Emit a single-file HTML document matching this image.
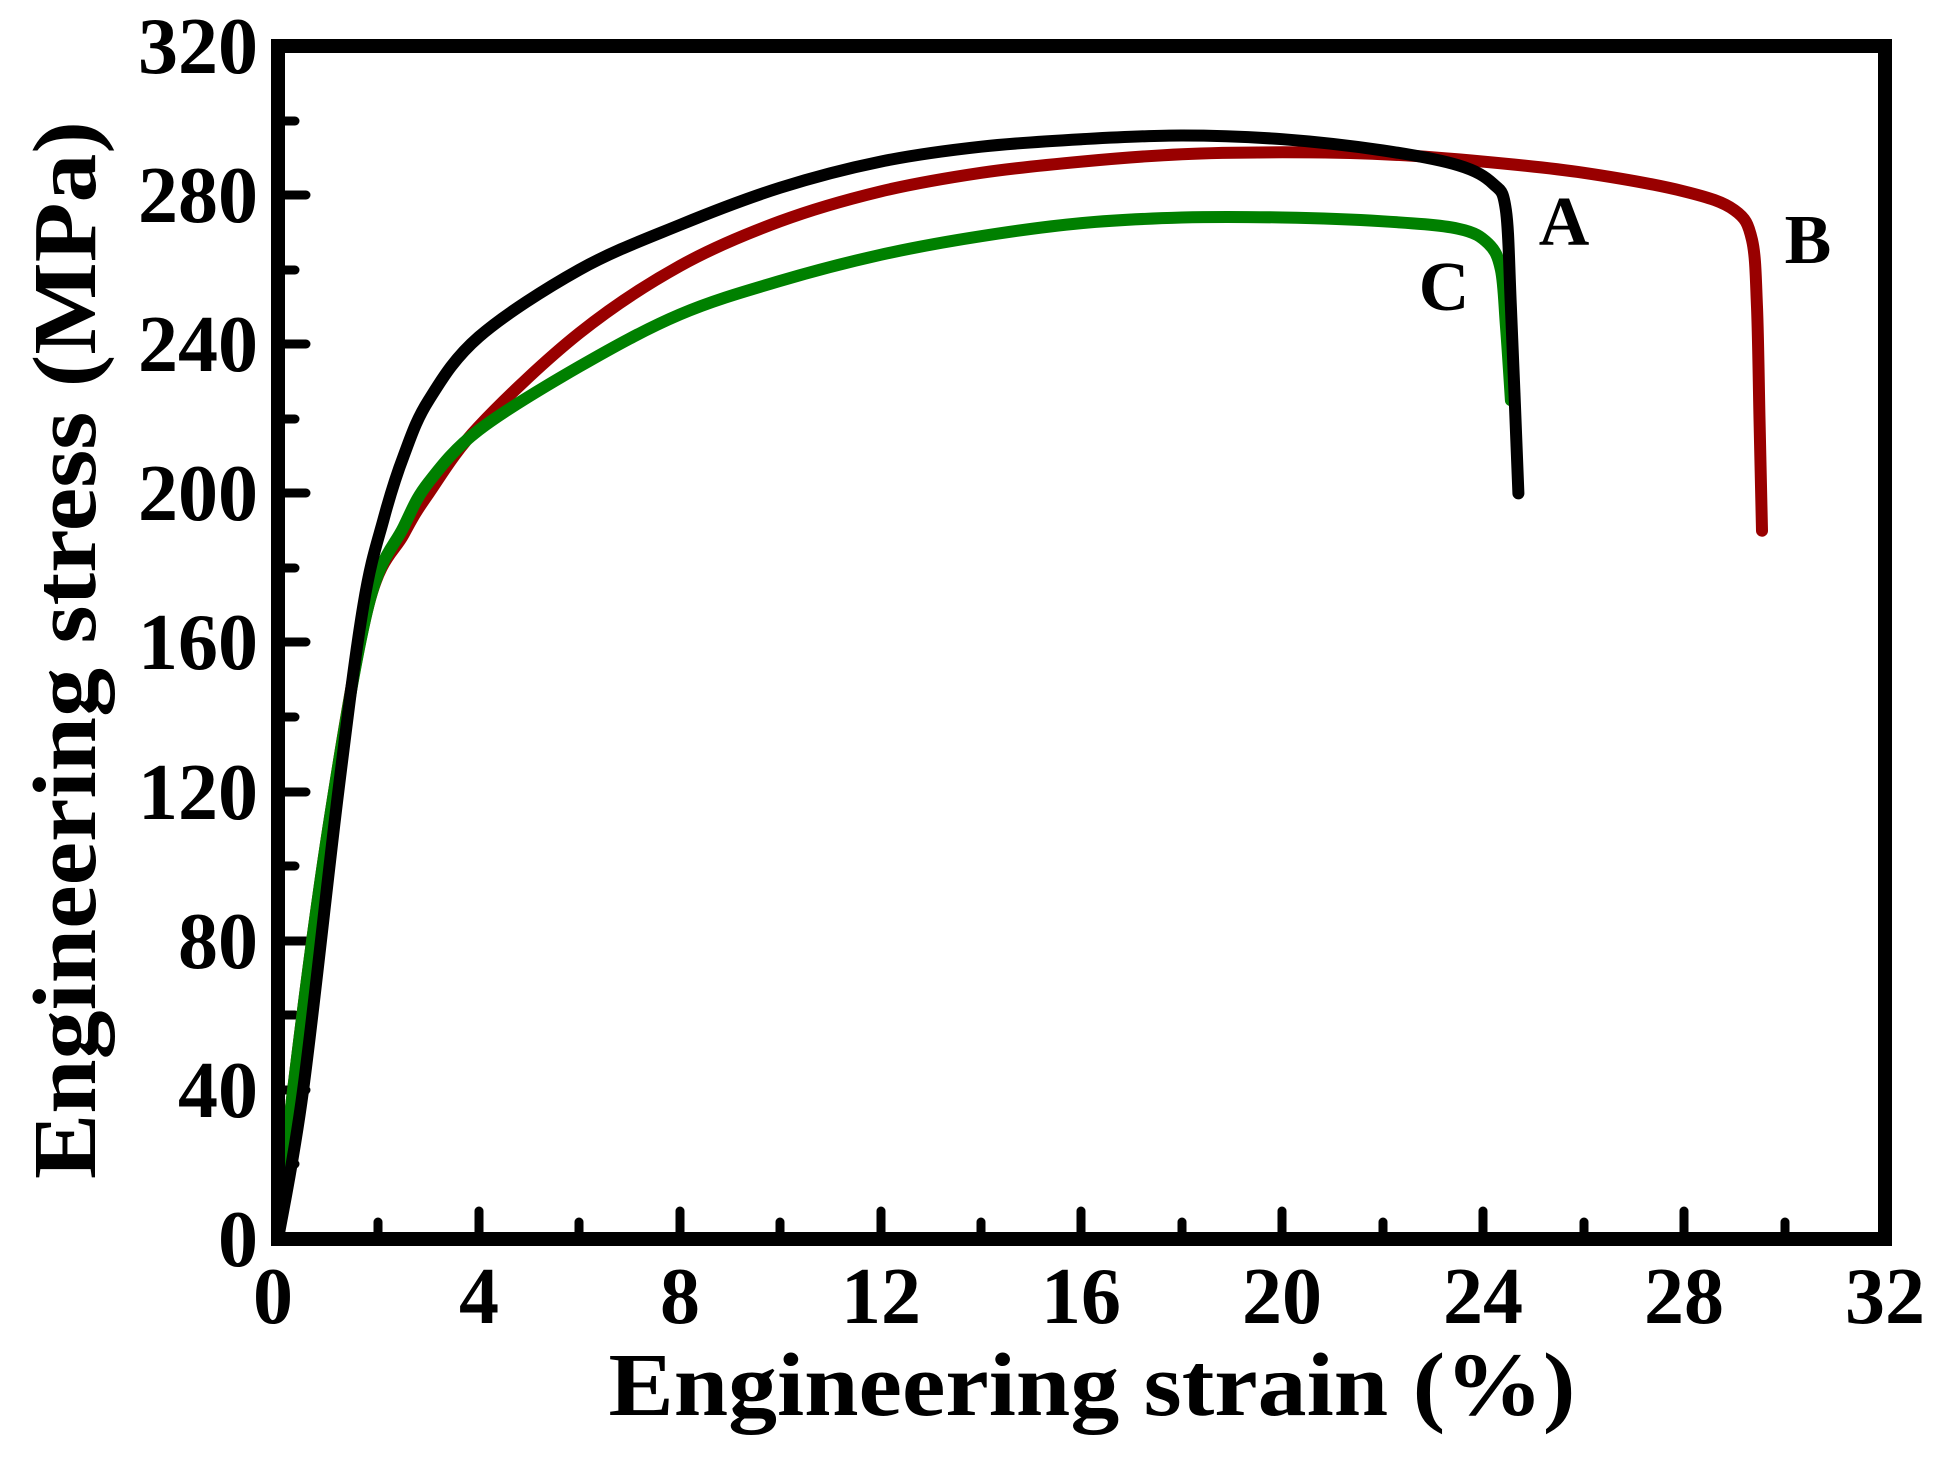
<!DOCTYPE html>
<html><head><meta charset="utf-8"><style>
html,body{margin:0;padding:0;background:#fff;}
svg{display:block;}
text{font-family:"Liberation Serif",serif;font-weight:bold;fill:#000;}
</style></head><body>
<svg id="s" width="1947" height="1458" viewBox="0 0 1947 1458" xmlns="http://www.w3.org/2000/svg">
<g stroke="#000" stroke-linecap="round" stroke-width="9">
<line x1="378" y1="1239" x2="378" y2="1222"/>
<line x1="479" y1="1239" x2="479" y2="1211"/>
<line x1="579" y1="1239" x2="579" y2="1222"/>
<line x1="680" y1="1239" x2="680" y2="1211"/>
<line x1="780" y1="1239" x2="780" y2="1222"/>
<line x1="881" y1="1239" x2="881" y2="1211"/>
<line x1="981" y1="1239" x2="981" y2="1222"/>
<line x1="1081" y1="1239" x2="1081" y2="1211"/>
<line x1="1182" y1="1239" x2="1182" y2="1222"/>
<line x1="1282" y1="1239" x2="1282" y2="1211"/>
<line x1="1383" y1="1239" x2="1383" y2="1222"/>
<line x1="1483" y1="1239" x2="1483" y2="1211"/>
<line x1="1584" y1="1239" x2="1584" y2="1222"/>
<line x1="1684" y1="1239" x2="1684" y2="1211"/>
<line x1="1785" y1="1239" x2="1785" y2="1222"/>
<line x1="278" y1="1164" x2="295" y2="1164"/>
<line x1="278" y1="1090" x2="306" y2="1090"/>
<line x1="278" y1="1015" x2="295" y2="1015"/>
<line x1="278" y1="941" x2="306" y2="941"/>
<line x1="278" y1="866" x2="295" y2="866"/>
<line x1="278" y1="792" x2="306" y2="792"/>
<line x1="278" y1="717" x2="295" y2="717"/>
<line x1="278" y1="642" x2="306" y2="642"/>
<line x1="278" y1="568" x2="295" y2="568"/>
<line x1="278" y1="493" x2="306" y2="493"/>
<line x1="278" y1="419" x2="295" y2="419"/>
<line x1="278" y1="344" x2="306" y2="344"/>
<line x1="278" y1="270" x2="295" y2="270"/>
<line x1="278" y1="195" x2="306" y2="195"/>
<line x1="278" y1="121" x2="295" y2="121"/>
</g>
<g fill="none" stroke-width="12" stroke-linejoin="round" stroke-linecap="round">
<path id="B" stroke="#990000"/>
<path id="C" stroke="#008000"/>
<path id="A" stroke="#000"/>
</g>
<rect x="278" y="46" width="1607" height="1193" fill="none" stroke="#000" stroke-width="14"/>
<g font-size="80" text-anchor="end">
<text x="258" y="1266">0</text>
<text x="258" y="1117">40</text>
<text x="258" y="968">80</text>
<text x="258" y="819">120</text>
<text x="258" y="669">160</text>
<text x="258" y="520">200</text>
<text x="258" y="371">240</text>
<text x="258" y="222">280</text>
<text x="258" y="73">320</text>
</g>
<g font-size="80" text-anchor="middle">
<text x="273" y="1323">0</text>
<text x="479" y="1323">4</text>
<text x="680" y="1323">8</text>
<text x="881" y="1323">12</text>
<text x="1081" y="1323">16</text>
<text x="1282" y="1323">20</text>
<text x="1483" y="1323">24</text>
<text x="1684" y="1323">28</text>
<text x="1885" y="1323">32</text>
</g>
<text x="1092" y="1415" font-size="90" text-anchor="middle" textLength="967" lengthAdjust="spacingAndGlyphs">Engineering strain (%)</text>
<text transform="translate(95,650) rotate(-90)" font-size="90" text-anchor="middle" textLength="1058" lengthAdjust="spacingAndGlyphs">Engineering stress (MPa)</text>
<g font-size="70" text-anchor="middle">
<text x="1564" y="245">A</text>
<text x="1808" y="263">B</text>
<text x="1444" y="310">C</text>
</g>
</svg>
<script>
function X(s){return 278+50.22*s}function Y(v){return 1239-3.728*v}
function path(d){var p=d.map(function(q){return [X(q[0]),Y(q[1])]});var s="M"+p[0][0].toFixed(1)+","+p[0][1].toFixed(1);
for(var i=0;i<p.length-1;i++){var p0=p[i>0?i-1:i],p1=p[i],p2=p[i+1],p3=p[i+2<p.length?i+2:i+1];
var c1=[p1[0]+(p2[0]-p0[0])/6,p1[1]+(p2[1]-p0[1])/6],c2=[p2[0]-(p3[0]-p1[0])/6,p2[1]-(p3[1]-p1[1])/6];
s+="C"+c1[0].toFixed(1)+","+c1[1].toFixed(1)+" "+c2[0].toFixed(1)+","+c2[1].toFixed(1)+" "+p2[0].toFixed(1)+","+p2[1].toFixed(1);}return s}
var A=[[0,0],[0.5,40],[1.2,120],[1.7,170],[2.1,193],[2.5,210],[3,225],[4,242],[6,260],[8,272],[10,282],[12,289],[14,293],[16,295],[18,296],[20,295],[22,292],[23.5,288],[24.2,283],[24.45,276],[24.55,250],[24.7,200]];
var B=[[0,0],[0.3,40],[1,110],[1.8,170],[2.5,189],[3,200],[4,218],[6,243],[8,261],[10,273],[12,281],[14,286],[16,289],[18,291],[20,291.5],[22,291],[24,289],[26,286],[28,281],[29,276],[29.35,268],[29.45,250],[29.5,220],[29.55,190]];
var C=[[0,0],[0.3,40],[1,110],[1.8,170],[2.5,191],[3,203],[4,217],[6,234],[8,248],[10,257],[12,264],[14,269],[16,272.5],[18,274],[20,274],[22,273],[23.5,271],[24.1,267],[24.35,260],[24.45,245],[24.55,225]];
document.getElementById("A").setAttribute("d",path(A));
document.getElementById("B").setAttribute("d",path(B));
document.getElementById("C").setAttribute("d",path(C));
</script>
</body></html>
